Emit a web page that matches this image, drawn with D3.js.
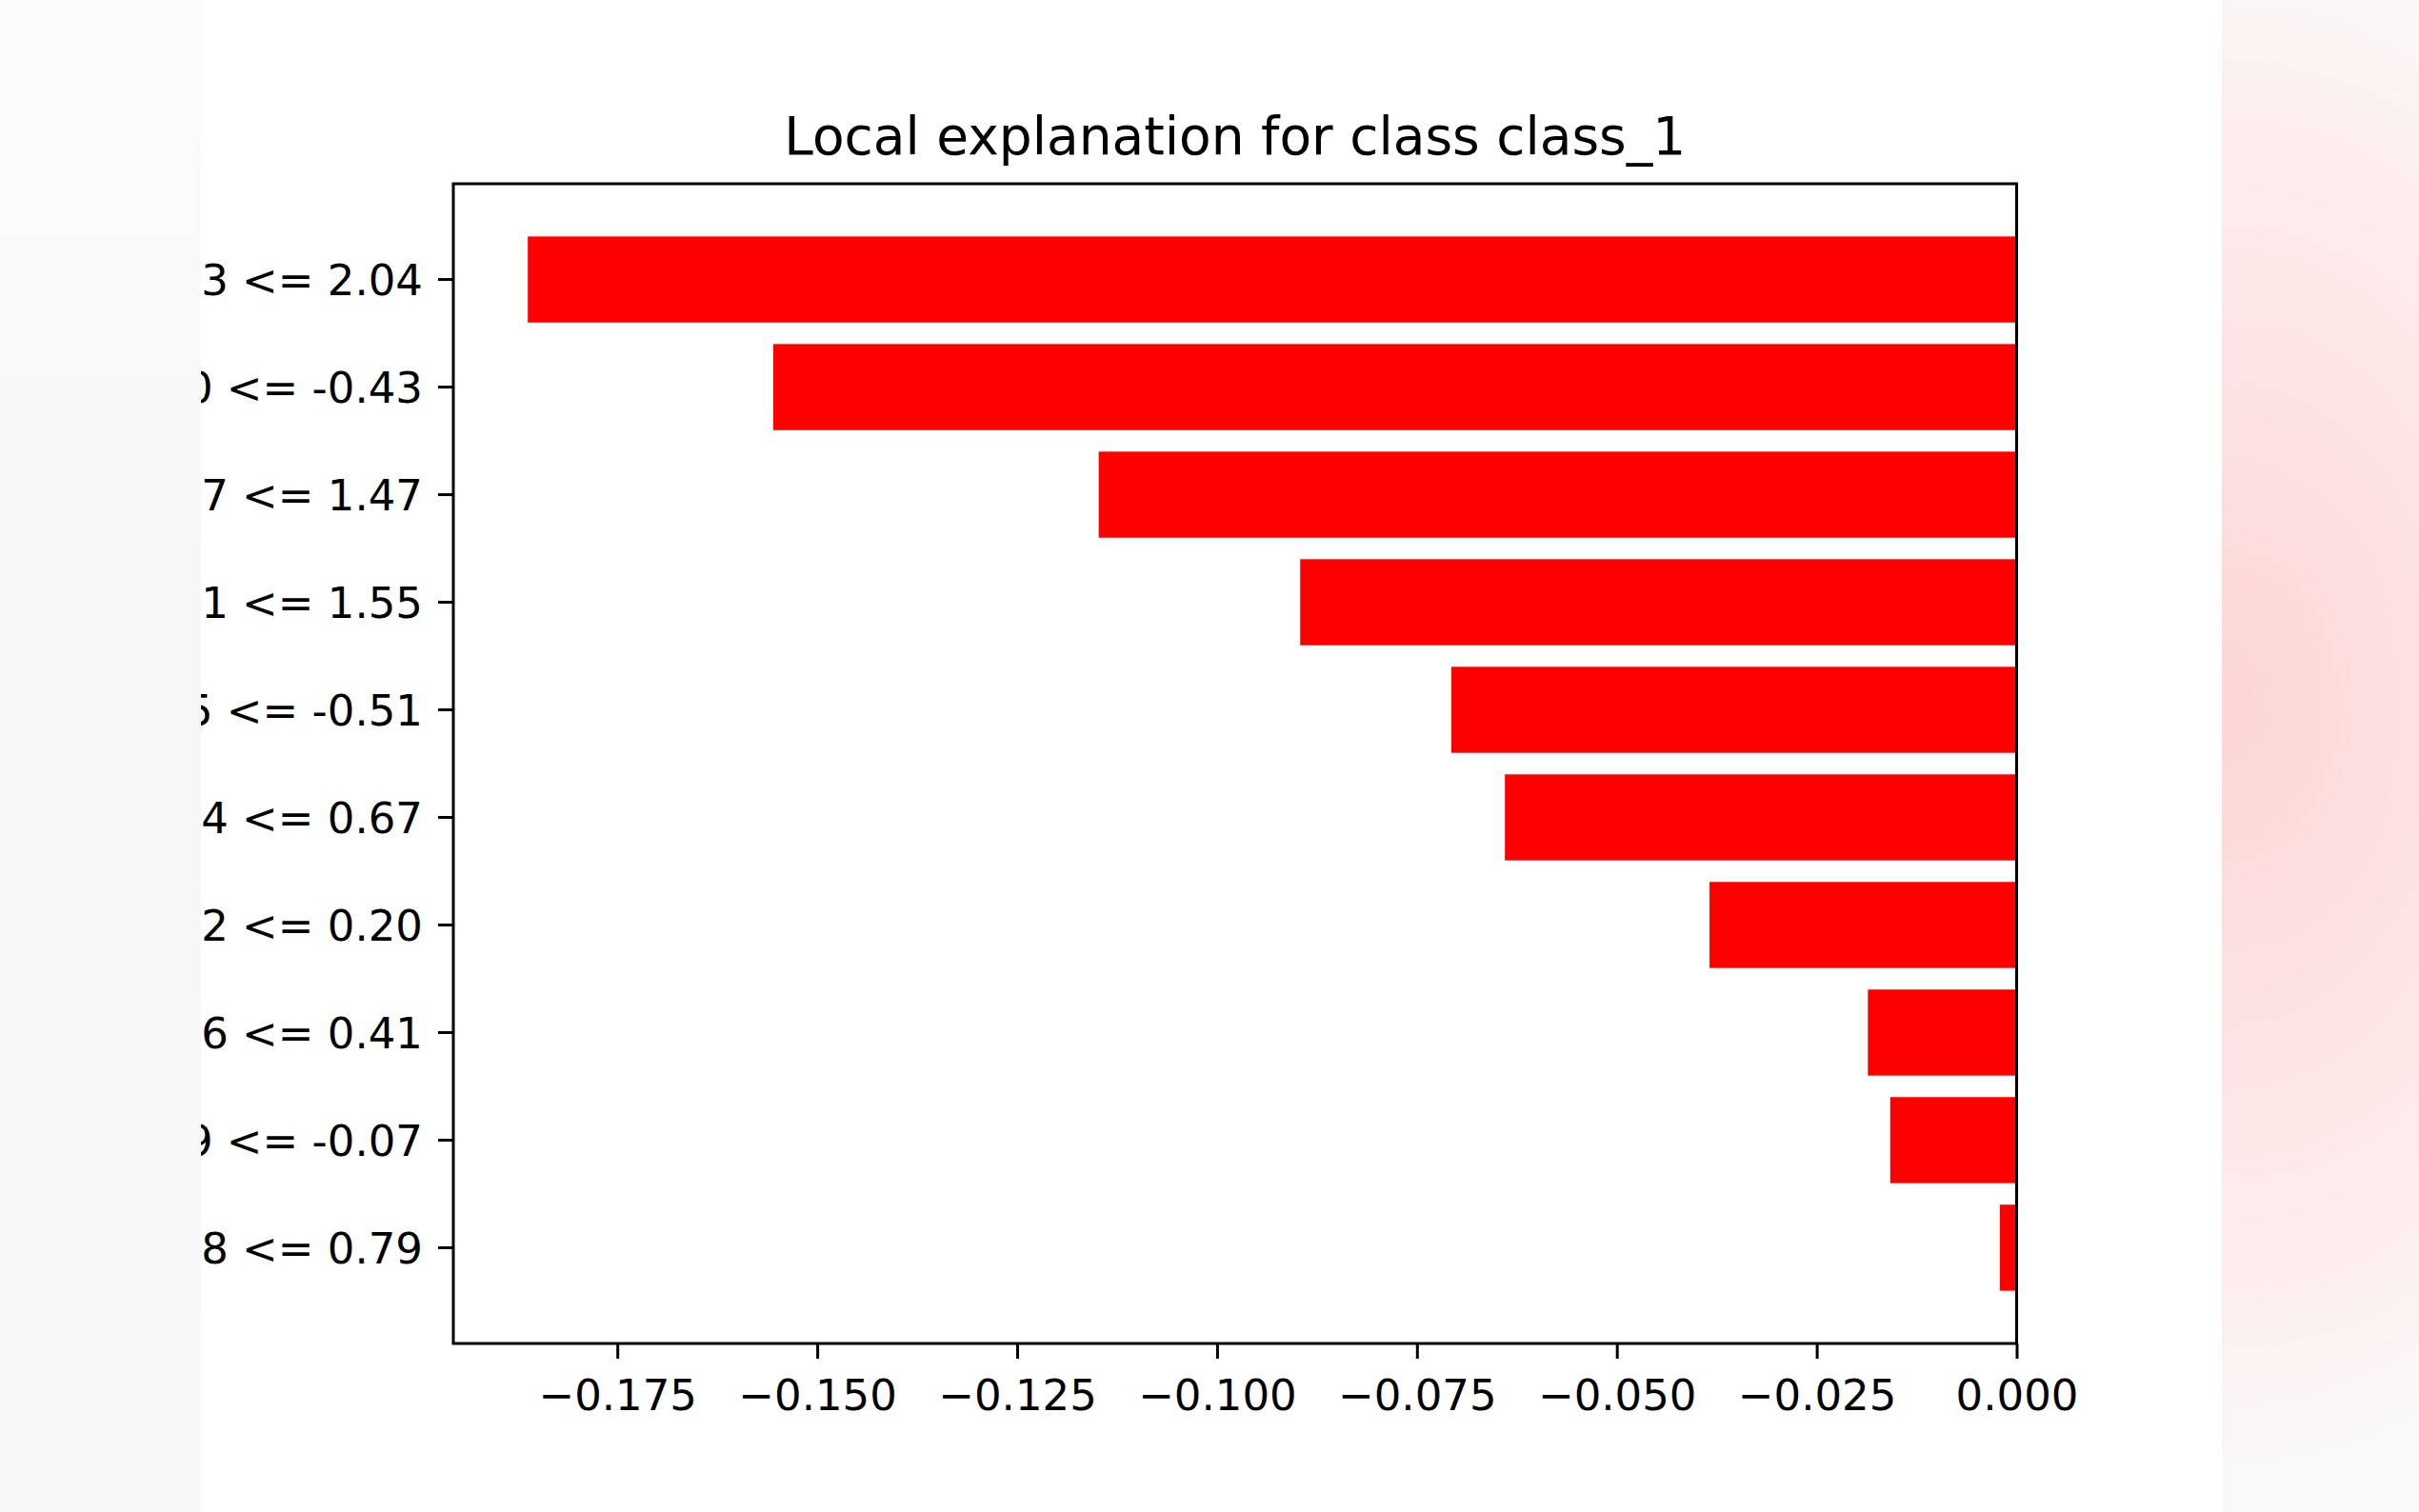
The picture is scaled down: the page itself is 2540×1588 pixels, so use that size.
<!DOCTYPE html>
<html>
<head>
<meta charset="utf-8">
<script src="https://cdn.jsdelivr.net/npm/d3@7"></script>
<style>
  html, body { margin: 0; padding: 0; background: #ffffff; }
  svg { display: block; }
  text { font-family: "DejaVu Sans", sans-serif; fill: #000; }
</style>
</head>
<body>
<svg id="chart" width="2540" height="1588"></svg>
<script>
// ---- data (top to bottom) ----
const categories = ["3 <= 2.04", "0 <= -0.43", "7 <= 1.47", "1 <= 1.55", "5 <= -0.51",
                    "4 <= 0.67", "2 <= 0.20", "6 <= 0.41", "9 <= -0.07", "8 <= 0.79"];
const weights = [-0.1862, -0.1555, -0.1148, -0.0896, -0.0707,
                 -0.0640, -0.0384, -0.0186, -0.0158, -0.0021];
const xTickValues = [-0.175, -0.150, -0.125, -0.100, -0.075, -0.050, -0.025, 0.000];
const xTickLabels = ["\u22120.175", "\u22120.150", "\u22120.125", "\u22120.100",
                     "\u22120.075", "\u22120.050", "\u22120.025", "0.000"];
const titleText = "Local explanation for class class_1";

// ---- layout ----
const W = 2540, H = 1588;
const plot = { left: 476, right: 2117.5, top: 193, bottom: 1411 };
const svg = d3.select("#chart");

// background panels (screenshot surround)
const defs = svg.append("defs");
const gL = defs.append("linearGradient").attr("id", "leftPanel")
  .attr("x1", 0).attr("y1", 0).attr("x2", 0).attr("y2", 1);
gL.append("stop").attr("offset", 0).attr("stop-color", "#fbfbfb");
gL.append("stop").attr("offset", 0.4).attr("stop-color", "#f7f7f7");
gL.append("stop").attr("offset", 1).attr("stop-color", "#f8f8f8");

const gR = defs.append("radialGradient").attr("id", "rightPanel")
  .attr("gradientUnits", "userSpaceOnUse")
  .attr("cx", 2340).attr("cy", 740).attr("r", 700)
  .attr("gradientTransform", "translate(2340,740) scale(0.8,1.15) translate(-2340,-740)");
gR.append("stop").attr("offset", 0).attr("stop-color", "#fcd5d5");
gR.append("stop").attr("offset", 0.4).attr("stop-color", "#fde2e2");
gR.append("stop").attr("offset", 0.75).attr("stop-color", "#fdeeee");
gR.append("stop").attr("offset", 1).attr("stop-color", "#faf8f8");

// x / y scales
const minW = d3.min(weights);
const x = d3.scaleLinear().domain([minW * 1.05, 0]).range([plot.left, plot.right]);
const y = d3.scaleBand().domain(categories)
  .range([plot.top, plot.bottom]).paddingInner(0.2).paddingOuter(0.49);

const tickLen = 16, tickPad = 16, stroke = 3;

// bars
svg.append("g").selectAll("rect").data(categories).join("rect")
  .attr("x", (d, i) => x(weights[i]))
  .attr("y", d => y(d))
  .attr("width", (d, i) => x(0) - x(weights[i]))
  .attr("height", y.bandwidth())
  .attr("fill", "#ff0000");

// y axis
const yAxis = svg.append("g")
  .attr("transform", `translate(${plot.left},0)`)
  .call(d3.axisLeft(y).tickSize(tickLen).tickPadding(tickPad));
yAxis.select(".domain").remove();
yAxis.selectAll(".tick line").attr("stroke", "#000").attr("stroke-width", stroke);
yAxis.selectAll(".tick text").attr("font-size", 45).attr("fill", "#000")
  .attr("font-family", "DejaVu Sans").attr("dy", "0.36em");

// x axis
const xAxis = svg.append("g")
  .attr("transform", `translate(0,${plot.bottom})`)
  .call(d3.axisBottom(x).tickValues(xTickValues)
    .tickFormat((d, i) => xTickLabels[i]).tickSize(tickLen).tickPadding(tickPad + 4));
xAxis.select(".domain").remove();
xAxis.selectAll(".tick line").attr("stroke", "#000").attr("stroke-width", stroke);
xAxis.selectAll(".tick text").attr("font-size", 45).attr("fill", "#000")
  .attr("font-family", "DejaVu Sans").attr("dy", "0.76em");

// frame
svg.append("rect")
  .attr("x", plot.left).attr("y", plot.top)
  .attr("width", plot.right - plot.left).attr("height", plot.bottom - plot.top)
  .attr("fill", "none").attr("stroke", "#000").attr("stroke-width", stroke);

// title
svg.append("text")
  .attr("x", (plot.left + plot.right) / 2).attr("y", 162)
  .attr("text-anchor", "middle").attr("font-size", 55)
  .text(titleText);

// surrounding screenshot panels (drawn on top, they crop the long labels)
svg.append("rect").attr("x", 0).attr("y", 0).attr("width", 211).attr("height", H)
  .attr("fill", "url(#leftPanel)");
svg.append("rect").attr("x", 2333).attr("y", 0).attr("width", W - 2333).attr("height", H)
  .attr("fill", "url(#rightPanel)");
</script>
</body>
</html>
